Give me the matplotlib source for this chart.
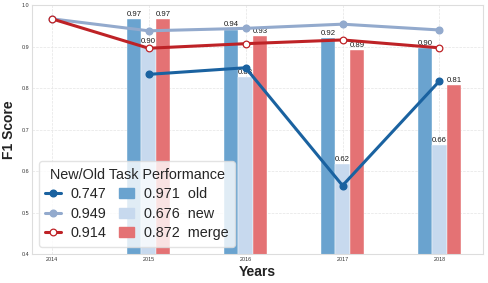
import numpy as np
import matplotlib
matplotlib.use("Agg")
import matplotlib.pyplot as plt
import seaborn as sns
from matplotlib.lines import Line2D
from matplotlib.patches import Patch

sns.set_style("whitegrid")
plt.rcParams['font.family'] = ['Liberation Sans', 'DejaVu Sans']

years = ['2014', '2015', '2016', '2017', '2018']

# lines (nan where there is no point)
line_dark = [np.nan, 0.833, 0.849, 0.565, 0.817]
line_light = [0.967, 0.938, 0.944, 0.954, 0.940]
line_red = [0.967, 0.896, 0.907, 0.916, 0.897]

# bars
bar_old = [np.nan, 0.966, 0.941, 0.921, 0.897]
bar_new = [np.nan, 0.900, 0.826, 0.617, 0.663]
bar_merge = [np.nan, 0.966, 0.926, 0.892, 0.808]

line_labels = ['0.747', '0.949', '0.914']
bar_labels = ['0.971  old', '0.676  new', '0.872  merge']

c_dark = '#1a62a0'
c_light = '#93aacd'
c_red = '#be2226'
c_old = '#6aa3cf'
c_new = '#c7d9ee'
c_merge = '#e47274'

fig = plt.figure(figsize=(4.88, 2.83), dpi=100)
ax = fig.add_axes([0.065, 0.1025, 0.925, 0.8795])

x = np.arange(len(years))
w = 0.15

for off, vals, col in [(-w, bar_old, c_old), (0, bar_new, c_new), (w, bar_merge, c_merge)]:
    ax.bar(x + off, vals, width=w, color=col, edgecolor='white', linewidth=0.3, zorder=2)
    for xi, v in zip(x + off, vals):
        if np.isnan(v):
            continue
        ax.annotate('%.2f' % v, (xi, v), xytext=(0, 0.8), textcoords='offset points',
                    ha='center', va='bottom', fontsize=5.6, color='#1a1a1a', zorder=3)

ax.plot(x, line_dark, color=c_dark, lw=2.2, marker='o', ms=4.8, zorder=4)
ax.plot(x, line_light, color=c_light, lw=2.2, marker='o', ms=4.8, zorder=4)
ax.plot(x, line_red, color=c_red, lw=2.2, marker='o', ms=4.8, mfc='white', mec=c_red, mew=0.9, zorder=4)

ax.set_xlim(-0.206, 4.45)
ax.set_ylim(0.4, 1.0)
ax.set_xticks(x)
ax.set_xticklabels(years)
ax.set_yticks([0.4, 0.5, 0.6, 0.7, 0.8, 0.9, 1.0])
ax.tick_params(labelsize=3.9, pad=2, length=0, colors='#333333')
ax.grid(True, ls='--', lw=0.5, color='#e4e4e4', zorder=0)
ax.set_axisbelow(True)
for s in ax.spines.values():
    s.set_color('#dddddd')
    s.set_linewidth(0.8)

ax.set_xlabel('Years', fontsize=10, fontweight='bold', labelpad=2, color='#222222')
ax.set_ylabel('F1 Score', fontsize=10, fontweight='bold', labelpad=4, color='#222222')

handles = [
    Line2D([], [], color=c_dark, lw=2.2, marker='o', ms=4.8),
    Line2D([], [], color=c_light, lw=2.2, marker='o', ms=4.8),
    Line2D([], [], color=c_red, lw=2.2, marker='o', ms=4.8, mfc='white', mec=c_red, mew=0.9),
    Patch(color=c_old), Patch(color=c_new), Patch(color=c_merge),
]
leg = ax.legend(handles, line_labels + bar_labels, ncol=2, loc='lower left',
                title='New/Old Task Performance', fontsize=10.4, title_fontsize=10.4,
                handlelength=1.05, handletextpad=0.7, columnspacing=0.85,
                labelspacing=0.38, frameon=True, framealpha=0.8, borderpad=0.45)
leg.get_frame().set_edgecolor('#dddddd')
leg.set_zorder(5)

fig.savefig('out.png', dpi=100)
